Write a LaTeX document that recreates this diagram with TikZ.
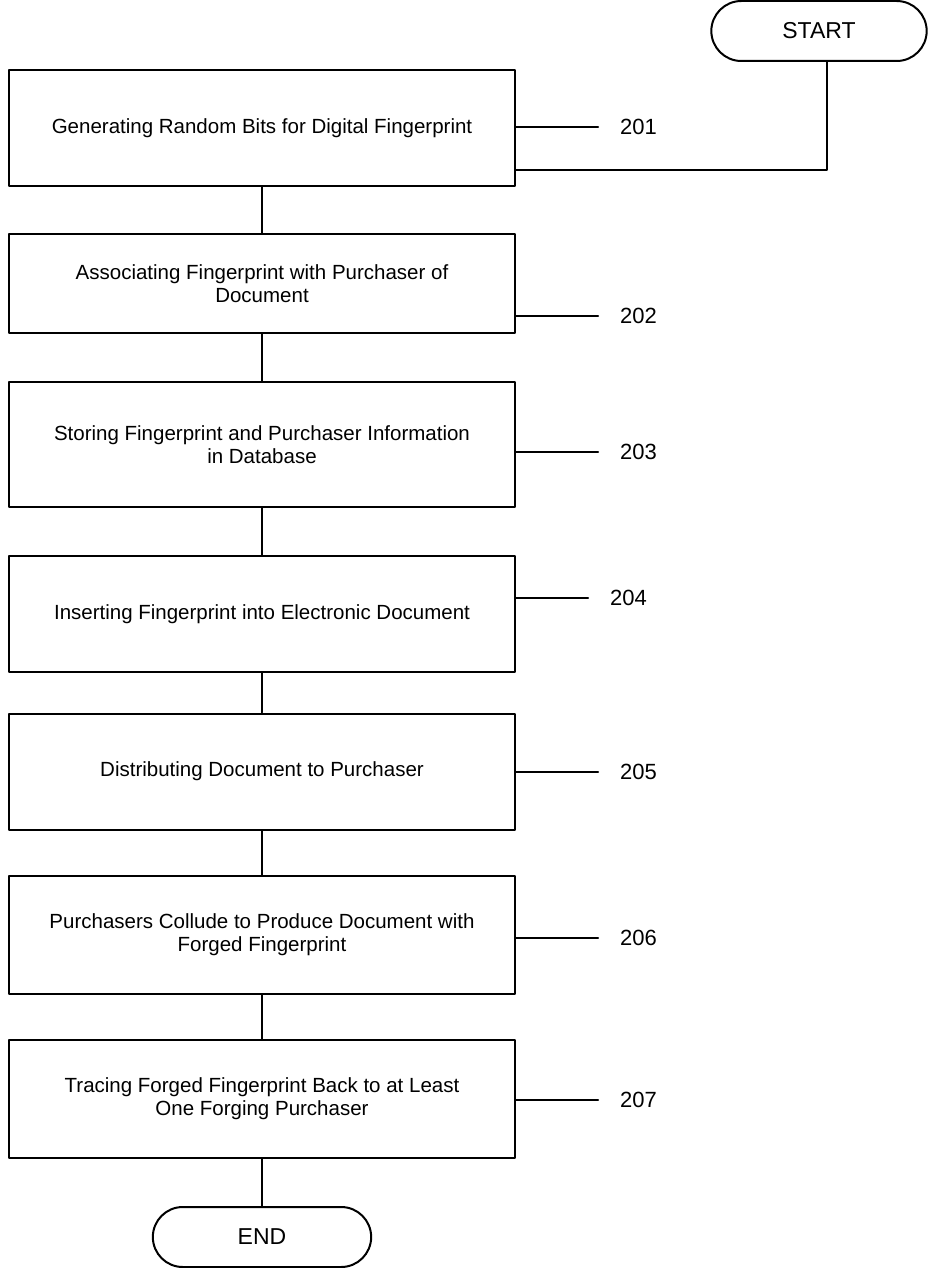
\documentclass[tikz,border=0pt]{standalone}
\usepackage{fontspec}
\setmainfont{Liberation Sans}
\usetikzlibrary{shapes.misc}

\begin{document}
\begin{tikzpicture}[line cap=round,line join=round,x=1pt,y=-1pt,
  stepbox/.style={draw,line width=2pt,minimum width=506,minimum height=116,align=center,font=\fontsize{20.5}{23}\selectfont},
  term/.style={draw,line width=2pt,rounded rectangle,minimum height=60,font=\fontsize{23}{26}\selectfont},
  refnum/.style={anchor=west,inner sep=0pt,font=\fontsize{22}{24}\selectfont},
  flow/.style={line width=2pt}]
\useasboundingbox (0,0) rectangle (932,1268);
\node[term,minimum width=222] (start) at (819,31) {START};
\node[stepbox] (s1) at (262,128) {Generating Random Bits for Digital Fingerprint};
\node[stepbox,minimum height=99] (s2) at (262,283.5) {Associating Fingerprint with Purchaser of\\Document};
\node[stepbox,minimum height=125] (s3) at (262,444.5) {Storing Fingerprint and Purchaser Information\\in Database};
\node[stepbox] (s4) at (262,614) {Inserting Fingerprint into Electronic Document};
\node[stepbox] (s5) at (262,771.5) {Distributing Document to Purchaser};
\node[stepbox,minimum height=118] (s6) at (262,935) {Purchasers Collude to Produce Document with\\Forged Fingerprint};
\node[stepbox,minimum height=118] (s7) at (262,1099) {Tracing Forged Fingerprint Back to at Least\\One Forging Purchaser};
\node[term,minimum width=225] (stop) at (262,1237) {END};
% start joins the first box from the right
\draw[flow] ([xshift=8pt]start.south) |- ([yshift=-42pt]s1.east);
\foreach \a/\b in {s1/s2,s2/s3,s3/s4,s4/s5,s5/s6,s6/s7,s7/stop}
  \draw[flow] (\a.south) -- (\b.north);
% reference numerals
\foreach \i/\x/\y in {1/620/127,2/620/316,3/620/452,4/610/598,5/620/772,6/620/938,7/620/1100}{
  \node[refnum] (r\i) at (\x,\y) {20\i};
  \draw[flow] (s\i.east |- r\i.west) -- ([xshift=-22pt]r\i.west);
}
\end{tikzpicture}
\end{document}
